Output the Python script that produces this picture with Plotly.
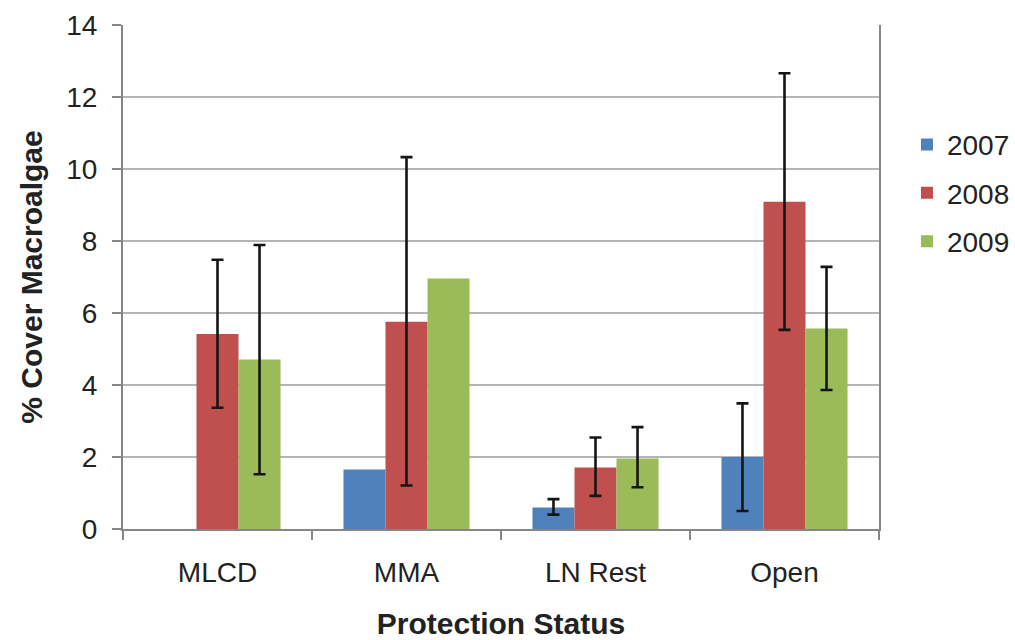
import numpy as np
import plotly.graph_objects as go

categories = ["MLCD", "MMA", "LN Rest", "Open"]
years = ["2007", "2008", "2009"]

cover_2007 = [0.0, 1.65, 0.60, 2.00]
cover_2008 = [5.42, 5.76, 1.71, 9.09]
cover_2009 = [4.71, 6.96, 1.96, 5.57]

upper_2007 = [np.nan, np.nan, 0.83, 3.49]
lower_2007 = [np.nan, np.nan, 0.40, 0.50]
upper_2008 = [7.48, 10.33, 2.54, 12.66]
lower_2008 = [3.37, 1.21, 0.92, 5.53]
upper_2009 = [7.89, np.nan, 2.83, 7.28]
lower_2009 = [1.52, np.nan, 1.16, 3.86]

colors = ["#4F81BD", "#C0504D", "#9BBB59"]
FONT = "Liberation Sans, Arial, sans-serif"

series = [
    (cover_2007, upper_2007, lower_2007),
    (cover_2008, upper_2008, lower_2008),
    (cover_2009, upper_2009, lower_2009),
]

fig = go.Figure()
for yr, (vals, up, lo), col in zip(years, series, colors):
    v = np.array(vals, dtype=float)
    plus = np.array(up, dtype=float) - v
    minus = v - np.array(lo, dtype=float)
    fig.add_trace(go.Bar(
        x=categories, y=v, name=yr, legendgroup=yr,
        marker=dict(color=col, line=dict(width=0)),
        error_y=dict(type="data", symmetric=False, array=plus, arrayminus=minus,
                     color="#151515", thickness=2.6, width=6, visible=True),
    ))

fig.update_layout(
    width=1015, height=640,
    margin=dict(l=123, r=136, t=25, b=111, autoexpand=False),
    paper_bgcolor="white", plot_bgcolor="white",
    barmode="group", bargap=0.333, bargroupgap=0,
    font=dict(family=FONT, size=28, color="#222222"),
    legend=dict(x=1.037, y=0.812, xanchor="left", yanchor="top",
                font=dict(size=28, color="#222222"), tracegroupgap=9,
                bgcolor="rgba(0,0,0,0)", itemwidth=30),
    showlegend=True,
)

fig.update_xaxes(
    type="category", showline=True, linecolor="#868686", linewidth=2,
    ticks="outside", tickson="boundaries", ticklen=9, tickwidth=1.5, tickcolor="#868686",
    ticklabelstandoff=17,
    tickfont=dict(size=28, color="#222222"), showgrid=False,
    title=dict(text="<b>Protection Status</b>", font=dict(size=30, color="#222222"), standoff=36),
)
fig.update_yaxes(
    range=[0, 14], dtick=2, tick0=0, showline=True, mirror=True,
    linecolor="#868686", linewidth=2,
    ticks="outside", ticklen=9, tickwidth=1.5, tickcolor="#868686",
    ticklabelstandoff=9,
    tickfont=dict(size=28, color="#222222"),
    showgrid=True, gridcolor="#b5b5b5", gridwidth=1.5, zeroline=False,
    title=dict(text="<b>% Cover Macroalgae</b>", font=dict(size=30, color="#222222"), standoff=15),
)

fig.write_html("out.html", config={"displayModeBar": False},
               post_script="document.body.style.margin='0';document.body.style.overflow='hidden';")
